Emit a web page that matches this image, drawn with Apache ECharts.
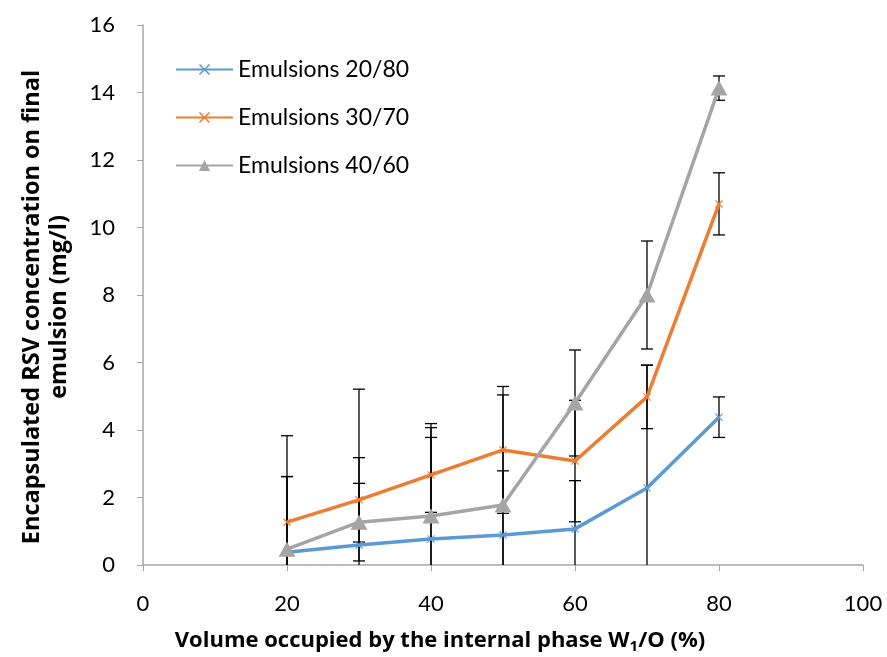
<!DOCTYPE html>
<html>
<head>
<meta charset="utf-8">
<script src="https://cdn.jsdelivr.net/npm/echarts@6/dist/echarts.min.js"></script>
<style>
  html, body { margin: 0; padding: 0; background: #fff; }
  #chart { width: 887px; height: 657px; }
</style>
</head>
<body>
<div id="chart"></div>
<script>
// volume of internal phase W1/O (%)
const volumes = [20, 30, 40, 50, 60, 70, 80];

// encapsulated RSV (mg/l)
const emul2080 = [0.38, 0.59, 0.77, 0.89, 1.07, 2.28, 4.38];
const emul3070 = [1.27, 1.93, 2.67, 3.41, 3.08, 4.98, 10.7];
const emul4060 = [0.47, 1.27, 1.45, 1.78, 4.8, 8.0, 14.13];

// error bar half widths
const err2080 = [2.24, 4.62, 3.42, 1.9, 1.43, 3.64, 0.6];
const err3070 = [2.56, 1.25, 1.11, 1.88, 1.8, 0.94, 0.92];
const err4060 = [2.15, 1.15, 2.62, 3.26, 1.57, 1.6, 0.36];

const xTicks = [0, 20, 40, 60, 80, 100];
const yTicks = [0, 2, 4, 6, 8, 10, 12, 14, 16];

const fontFam = 'Lato, "Open Sans", sans-serif';
const titleFam = '"Open Sans", Lato, sans-serif';
const crossPath = 'path://M0,1 L1,0 L5,4 L9,0 L10,1 L6,5 L10,9 L9,10 L5,6 L1,10 L0,9 L4,5 Z';

const myChart = echarts.init(document.getElementById('chart'), null, { renderer: 'canvas' });

function pairs(vals) {
  return volumes.map((v, i) => [v, vals[i]]);
}

// error bars as a custom series, clipped to the axis at 0
function errorSeries(vals, errs) {
  const data = volumes.map((v, i) => [v, vals[i] - errs[i], vals[i] + errs[i]]);
  return {
    type: 'custom',
    z: 1,
    silent: true,
    data: data,
    renderItem: function (params, api) {
      const x = api.value(0);
      const lo = api.value(1);
      const hi = api.value(2);
      const top = api.coord([x, hi]);
      const bot = api.coord([x, Math.max(lo, 0)]);
      const half = 6;
      const st = { stroke: '#000', lineWidth: 1.3 };
      const kids = [
        { type: 'line', shape: { x1: top[0], y1: top[1], x2: bot[0], y2: bot[1] }, style: st },
        { type: 'line', shape: { x1: top[0] - half, y1: top[1], x2: top[0] + half, y2: top[1] }, style: st }
      ];
      if (lo >= 0) {
        kids.push({ type: 'line', shape: { x1: bot[0] - half, y1: bot[1], x2: bot[0] + half, y2: bot[1] }, style: st });
      }
      return { type: 'group', children: kids };
    }
  };
}

const option = {
  animation: false,
  textStyle: { fontFamily: fontFam },
  grid: { left: 143, right: 24, top: 25, bottom: 92, outerBoundsMode: 'none' },
  legend: {
    orient: 'vertical',
    left: 170,
    top: 53,
    itemWidth: 57,
    itemHeight: 14,
    itemGap: 25,
    textStyle: { fontSize: 23, color: '#000', fontFamily: fontFam },
    data: ['Emulsions 20/80', 'Emulsions 30/70', 'Emulsions 40/60']
  },
  xAxis: {
    type: 'value',
    min: xTicks[0],
    max: xTicks[xTicks.length - 1],
    interval: 20,
    name: 'Volume occupied by the internal phase W{sub|1}/O (%)',
    nameLocation: 'middle',
    nameGap: 62,
    nameTextStyle: {
      fontSize: 22, fontWeight: 'bold', color: '#000', fontFamily: titleFam,
      padding: [0, 126, 0, 0],
      rich: { sub: { fontSize: 15, fontWeight: 'bold', fontFamily: titleFam, verticalAlign: 'bottom', padding: [12, 0, 0, 0] } }
    },
    splitLine: { show: false },
    axisLine: { lineStyle: { color: '#a6a6a6', width: 1.5 } },
    axisTick: { show: true, inside: false, length: 6, lineStyle: { color: '#a6a6a6' } },
    axisLabel: { fontSize: 22, color: '#000', margin: 28, fontFamily: fontFam }
  },
  yAxis: {
    type: 'value',
    min: yTicks[0],
    max: yTicks[yTicks.length - 1],
    interval: 2,
    name: 'Encapsulated RSV concentration on final\nemulsion (mg/l)',
    nameLocation: 'middle',
    nameRotate: 90,
    nameGap: 70,
    nameTextStyle: {
      fontSize: 23.5, fontWeight: 'bold', color: '#000', lineHeight: 27, fontFamily: titleFam,
      padding: [0, 24, 0, 0]
    },
    splitLine: { show: false },
    axisLine: { show: true, lineStyle: { color: '#a6a6a6', width: 1.5 } },
    axisTick: { show: true, inside: false, length: 6, lineStyle: { color: '#a6a6a6' } },
    axisLabel: { fontSize: 22, color: '#000', margin: 28, fontFamily: fontFam }
  },
  series: [
    errorSeries(emul2080, err2080),
    errorSeries(emul3070, err3070),
    errorSeries(emul4060, err4060),
    {
      name: 'Emulsions 20/80',
      type: 'line',
      z: 3,
      data: pairs(emul2080),
      symbol: crossPath,
      symbolSize: 8,
      itemStyle: { color: '#5b9bd5' },
      lineStyle: { color: '#5b9bd5', width: 3.5 }
    },
    {
      name: 'Emulsions 30/70',
      type: 'line',
      z: 3,
      data: pairs(emul3070),
      symbol: crossPath,
      symbolSize: 8,
      itemStyle: { color: '#ed7d31' },
      lineStyle: { color: '#ed7d31', width: 3.5 }
    },
    {
      name: 'Emulsions 40/60',
      type: 'line',
      z: 3,
      data: pairs(emul4060),
      symbol: 'triangle',
      symbolSize: [17, 15],
      itemStyle: { color: '#a5a5a5' },
      lineStyle: { color: '#a5a5a5', width: 3.5 }
    }
  ]
};

myChart.setOption(option);
</script>
</body>
</html>
